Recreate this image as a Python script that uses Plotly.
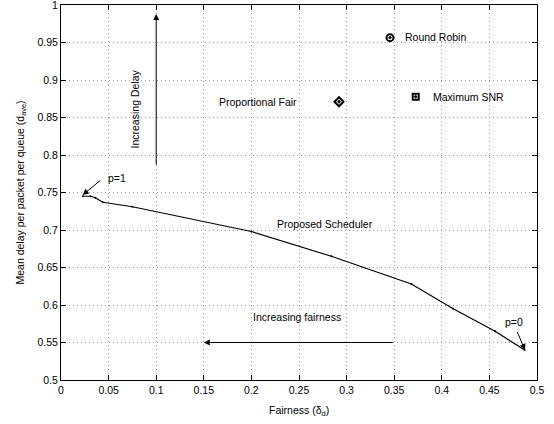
import plotly.graph_objects as go

# Proposed scheduler trade-off curve
prop_x = [0.023, 0.031, 0.036, 0.044, 0.075, 0.200, 0.284, 0.368, 0.412, 0.456, 0.487]
prop_y = [0.745, 0.745, 0.743, 0.737, 0.731, 0.698, 0.665, 0.628, 0.595, 0.565, 0.540]

# Reference schedulers
rr_x, rr_y = [0.3456], [0.9565]
pf_x, pf_y = [0.292], [0.871]
msnr_x, msnr_y = [0.3726], [0.8778]

x_ticks = [0, 0.05, 0.1, 0.15, 0.2, 0.25, 0.3, 0.35, 0.4, 0.45, 0.5]
y_ticks = [0.5, 0.55, 0.6, 0.65, 0.7, 0.75, 0.8, 0.85, 0.9, 0.95, 1]

FONT = "Liberation Sans, Arial, Helvetica, sans-serif"

fig = go.Figure()
fig.add_trace(go.Scatter(x=prop_x, y=prop_y, mode="lines+markers",
                         line=dict(color="black", width=1.2),
                         marker=dict(size=2, color="black"), showlegend=False))
fig.add_trace(go.Scatter(x=rr_x, y=rr_y, mode="markers",
                         marker=dict(symbol="circle-dot", size=7, color="white",
                                     line=dict(color="black", width=2)), showlegend=False))
fig.add_trace(go.Scatter(x=pf_x, y=pf_y, mode="markers",
                         marker=dict(symbol="diamond-dot", size=7, color="white",
                                     line=dict(color="black", width=2)), showlegend=False))
fig.add_trace(go.Scatter(x=msnr_x, y=msnr_y, mode="markers",
                         marker=dict(symbol="square-dot", size=6, color="white",
                                     line=dict(color="black", width=2)), showlegend=False))

txt = dict(size=10.5, color="black", family=FONT)
arrow = dict(xref="x", yref="y", axref="x", ayref="y", text="", showarrow=True,
             arrowhead=2, arrowsize=1.2, arrowwidth=1, arrowcolor="black")
ann = [
    dict(x=0.359, y=0.957, text="Round Robin", xanchor="left", showarrow=False, font=txt),
    dict(x=0.389, y=0.877, text="Maximum SNR", xanchor="left", showarrow=False, font=txt),
    dict(x=0.164, y=0.871, text="Proportional Fair", xanchor="left", showarrow=False, font=txt),
    dict(x=0.0777, y=0.862, text="Increasing Delay", textangle=-90, showarrow=False, font=txt),
    dict(x=0.277, y=0.708, text="Proposed Scheduler", showarrow=False, font=txt),
    dict(x=0.248, y=0.584, text="Increasing fairness", showarrow=False, font=txt),
    dict(x=0.0585, y=0.770, text="p=1", showarrow=False, font=txt),
    dict(x=0.4758, y=0.578, text="p=0", showarrow=False, font=txt),
    dict(x=0, y=0.5, xref="paper", yref="paper", xshift=-50, textangle=-90,
         text="Mean delay per packet per queue (d<sub>ave</sub>)", showarrow=False, font=txt),
    dict(x=0.5, y=0, xref="paper", yref="paper", yanchor="middle", yshift=-31,
         text="Fairness (δ<sub>d</sub>)", showarrow=False, font=txt),
    dict(x=0.1, y=0.988, ax=0.1, ay=0.785, **arrow),
    dict(x=0.15, y=0.55, ax=0.35, ay=0.55, **arrow),
    dict(x=0.0228, y=0.7467, ax=0.0427, ay=0.7676, **arrow),
    dict(x=0.4874, y=0.540, ax=0.4786, ay=0.566, **arrow),
]

axis_common = dict(showline=True, linecolor="black", linewidth=1, mirror="allticks",
                   ticks="inside", ticklen=5, tickcolor="black",
                   showgrid=True, gridcolor="#9a9a9a", griddash="1px,3px", gridwidth=1,
                   zeroline=False, ticklabeloverflow="allow", automargin=False,
                   tickfont=dict(size=10.5, color="black", family=FONT))

fig.update_layout(
    width=554, height=424,
    margin=dict(l=61, r=17, t=5, b=44),
    plot_bgcolor="white", paper_bgcolor="white",
    font=dict(family=FONT, color="black"),
    annotations=ann,
    xaxis=dict(range=[0, 0.5], tickvals=x_ticks, ticktext=[f"{v:g}" for v in x_ticks],
               **axis_common),
    yaxis=dict(range=[0.5, 1], tickvals=y_ticks, ticktext=[f"{v:g}" for v in y_ticks],
               **axis_common),
)

fig.write_html("out.html")
